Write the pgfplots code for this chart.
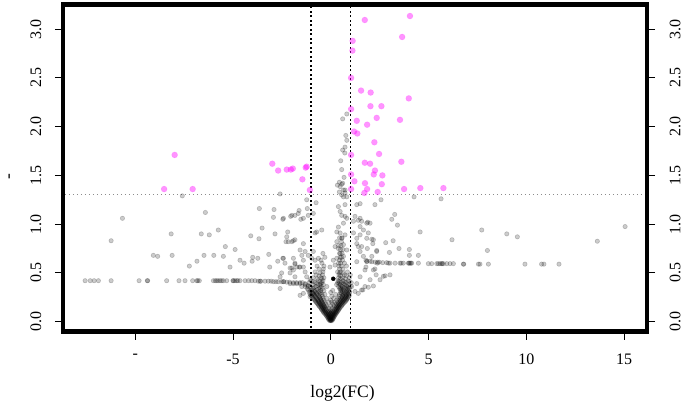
\documentclass[border=0pt]{standalone}
\usepackage{fontspec}
\setmainfont{Liberation Serif}
\usepackage{pgfplots}
\pgfplotsset{compat=1.18}
\definecolor{mag}{RGB}{255,0,255}
\pgfplotsset{
  gpt/.style={only marks, mark=*, mark size=2.2pt, mark options={draw=black, fill=black, fill opacity=0.2, draw opacity=0.2, line width=0.6pt}},
  ppt/.style={only marks, mark=*, mark size=3pt, mark options={draw=mag, fill=mag, fill opacity=0.42, draw opacity=0.15, line width=0.6pt}},
}
\begin{document}
\fontsize{16}{19}\selectfont
\begin{tikzpicture}
\useasboundingbox (-63pt,-69.3pt) rectangle (622pt,331.7pt);
\begin{axis}[
  at={(0,0)}, anchor=south west,
  width=584pt, height=327pt, scale only axis,
  xmin=-13.69, xmax=16.17, ymin=-0.103, ymax=3.251,
  axis line style={line width=4.5pt},
  axis on top,
  tick align=outside,
  xtick pos=bottom, ytick pos=left,
  major tick length=8pt,
  every tick/.style={black, line width=0.9pt},
  xtick={-10,-5,0,5,10,15}, xticklabels={{\mbox{-}},{-5},{0},{5},{10},{15}},
  ytick={0,0.5,1,1.5,2,2.5,3}, yticklabels={},
  xticklabel style={anchor=north, inner sep=0pt},
  xticklabel shift=14pt,
  xlabel={log2(FC)}, ylabel={-},
  xlabel style={at={(rel axis cs:0.4786,0)}, anchor=base, yshift=-66pt, inner sep=0pt, font=\fontsize{17.5}{21}\selectfont},
  ylabel style={at={([xshift=-52pt]rel axis cs:0,0.473)}, anchor=center, rotate=0, inner sep=0pt, font=\fontsize{17.5}{21}\selectfont},
]
% gray, non-significant
\addplot[gpt] table {
x y
-12.56 0.42
-12.30 0.42
-12.10 0.42
-11.88 0.42
-11.23 0.42
-9.80 0.42
-9.38 0.42
-9.36 0.42
-8.39 0.42
-7.76 0.42
-7.45 0.42
-7.06 0.42
-6.85 0.42
-6.80 0.42
-6.72 0.42
-6.00 0.42
-5.90 0.42
-5.83 0.42
-5.75 0.42
-5.66 0.42
-5.58 0.42
-5.49 0.42
-5.32 0.42
-5.00 0.42
-4.98 0.42
-4.90 0.42
-4.81 0.42
-4.75 0.42
-4.64 0.42
-4.38 0.42
-4.20 0.42
-4.04 0.42
-3.87 0.42
-3.70 0.415
-3.61 0.415
-3.58 0.415
-3.36 0.415
-3.19 0.415
-3.05 0.415
-2.93 0.41
-2.80 0.41
-2.68 0.41
-2.51 0.41
-2.40 0.41
-2.25 0.405
-2.10 0.405
-1.91 0.40
-1.75 0.40
-1.57 0.40
-1.45 0.40
-10.65 1.06
-11.23 0.83
-7.59 1.29
-6.41 1.12
-8.16 0.90
-6.62 0.90
-6.21 0.89
-5.75 0.94
-9.07 0.68
-8.85 0.67
-8.11 0.68
-7.23 0.57
-6.84 0.62
-6.48 0.68
-5.98 0.68
-5.49 0.67
-5.39 0.77
-5.15 0.56
-4.89 0.74
-4.64 0.63
-4.43 0.60
-4.09 0.88
-3.99 0.66
-4.02 0.62
-3.67 0.85
-3.65 1.16
-3.51 0.96
-3.73 0.65
-3.17 0.69
-3.12 0.56
-2.93 1.07
-2.90 1.15
-2.85 0.90
-2.71 0.62
-2.59 1.31
-2.59 0.34
-2.45 1.05
-2.45 0.65
-2.29 0.82
-2.25 0.87
-2.20 0.92
-2.05 1.08
-1.91 0.83
-1.66 1.11
-1.62 1.14
-1.53 1.05
-1.20 1.16
-1.91 0.65
-1.83 0.59
-1.74 0.56
-2.08 0.55
-2.59 0.46
-2.51 0.50
-1.57 0.735
-1.48 0.68
-1.40 0.63
-1.61 0.56
-1.31 0.51
-1.23 0.46
-1.15 0.36
-0.89 0.29
-1.31 0.39
-0.75 1.22
-0.72 0.92
-0.46 0.94
-1.83 1.09
-1.99 0.82
-1.40 0.80
-1.99 0.55
-1.83 0.46
-1.91 0.39
-1.57 0.39
-1.31 0.36
-1.06 0.43
-0.80 0.91
-0.89 1.11
-1.15 1.09
-1.23 1.25
-1.40 1.06
-1.99 1.09
-2.42 1.06
-2.17 0.82
-1.83 0.84
-1.31 0.72
-1.15 0.68
-0.89 0.72
-0.80 0.63
-0.97 0.65
-0.63 0.65
-2.42 0.65
-2.34 0.60
-1.83 0.60
-1.57 0.56
-1.40 0.56
-1.91 0.53
-2.08 0.50
-2.42 0.41
-2.08 0.39
-1.74 0.39
-1.48 0.36
-1.15 0.325
-1.06 0.256
-1.40 0.29
-1.57 0.27
0.39 1.18
0.48 1.13
0.56 1.09
0.73 1.08
0.82 1.06
0.65 1.01
0.39 0.97
0.31 0.92
0.48 0.91
0.73 0.89
0.56 0.855
0.31 0.82
0.22 0.77
0.39 0.75
0.65 0.79
0.82 0.735
0.48 0.70
0.65 0.67
0.31 0.65
0.13 0.63
0.22 0.58
-0.04 0.56
0.48 1.385
0.61 1.42
0.73 1.35
0.56 1.30
0.82 1.28
0.61 2.08
0.82 2.13
0.77 1.91
0.82 1.86
0.73 1.79
0.61 1.76
0.72 1.73
0.51 1.65
0.56 1.56
0.68 1.48
0.44 1.43
0.34 1.40
0.56 1.41
0.65 1.35
0.44 1.33
0.73 1.32
0.65 1.28
1.33 1.20
1.50 1.21
1.41 1.04
1.58 1.03
1.84 1.01
2.01 1.01
1.67 0.94
1.92 0.91
1.50 0.89
1.33 0.80
1.58 0.77
1.87 0.75
2.18 0.84
2.10 0.67
2.35 0.72
2.38 0.60
1.84 0.615
2.18 0.53
2.01 0.43
1.75 0.36
1.58 0.325
1.41 0.29
1.24 0.31
1.07 0.36
1.33 0.39
1.50 0.46
2.32 0.48
2.78 0.47
3.03 0.48
2.52 0.43
1.75 0.53
1.80 0.56
2.26 0.54
2.69 0.465
1.50 1.06
1.16 1.03
1.24 1.08
0.73 1.20
1.16 0.91
1.33 0.855
1.41 0.77
1.50 0.72
1.67 0.67
1.33 0.615
2.18 0.366
1.92 0.353
1.64 0.325
1.89 1.02
1.50 0.975
1.84 0.855
2.10 0.845
2.15 0.80
2.57 1.25
2.26 1.20
2.35 0.73
15.05 0.975
13.63 0.825
7.72 0.94
9.00 0.90
9.54 0.87
8.01 0.73
6.20 0.84
4.57 0.92
4.26 1.28
5.64 1.26
3.27 1.10
3.12 1.05
3.41 0.99
4.02 0.74
4.02 0.68
4.48 0.68
3.49 0.75
3.00 0.71
2.81 0.81
3.19 0.83
1.80 0.63
1.85 0.62
2.01 0.62
2.10 0.615
2.27 0.61
2.40 0.61
2.48 0.61
2.66 0.605
2.86 0.605
2.95 0.60
3.03 0.60
3.29 0.60
3.54 0.60
3.60 0.60
3.71 0.60
3.97 0.60
4.00 0.60
4.05 0.60
4.10 0.60
4.14 0.60
4.48 0.60
4.99 0.595
5.16 0.595
5.42 0.595
5.50 0.595
5.59 0.595
5.67 0.595
5.70 0.595
5.76 0.595
5.93 0.595
6.10 0.595
6.27 0.595
6.78 0.59
6.80 0.59
7.55 0.59
7.63 0.59
8.06 0.59
9.93 0.59
10.78 0.59
10.90 0.59
11.67 0.59
-0.05 0.01
0.00 0.01
0.05 0.01
-0.10 0.02
-0.03 0.02
0.03 0.02
0.10 0.02
-0.15 0.04
-0.08 0.04
0.00 0.04
0.07 0.04
0.14 0.04
-0.22 0.06
-0.12 0.06
-0.04 0.06
0.04 0.06
0.12 0.06
0.20 0.06
-0.30 0.08
-0.20 0.08
-0.10 0.08
0.00 0.08
0.10 0.08
0.18 0.08
0.26 0.08
-0.38 0.10
-0.28 0.10
-0.15 0.10
-0.05 0.10
0.05 0.10
0.15 0.10
0.25 0.10
0.33 0.10
-0.45 0.12
-0.33 0.12
-0.22 0.12
0.00 0.12
0.20 0.12
0.30 0.12
0.40 0.12
-0.50 0.14
-0.40 0.14
-0.28 0.14
-0.10 0.14
0.10 0.14
0.26 0.14
0.36 0.14
0.46 0.14
-0.60 0.16
-0.46 0.16
-0.34 0.16
-0.20 0.16
0.00 0.16
0.18 0.16
0.32 0.16
0.42 0.16
0.55 0.16
-0.66 0.18
-0.52 0.18
-0.40 0.18
-0.25 0.18
0.10 0.18
0.28 0.18
0.40 0.18
0.50 0.18
0.62 0.18
-0.75 0.20
-0.60 0.20
-0.45 0.20
-0.30 0.20
-0.10 0.20
0.05 0.20
0.20 0.20
0.35 0.20
0.48 0.20
0.60 0.20
0.72 0.20
-0.82 0.22
-0.65 0.22
-0.50 0.22
-0.35 0.22
0.00 0.22
0.30 0.22
0.45 0.22
0.55 0.22
0.68 0.22
0.80 0.22
-0.90 0.24
-0.72 0.24
-0.55 0.24
-0.40 0.24
-0.20 0.24
0.15 0.24
0.38 0.24
0.50 0.24
0.62 0.24
0.75 0.24
0.86 0.24
-0.98 0.26
-0.80 0.26
-0.60 0.26
-0.42 0.26
0.05 0.26
0.42 0.26
0.58 0.26
0.70 0.26
0.82 0.26
0.92 0.26
-1.05 0.28
-0.88 0.28
-0.70 0.28
-0.45 0.28
-0.30 0.28
0.25 0.28
0.45 0.28
0.62 0.28
0.78 0.28
0.90 0.28
-1.10 0.30
-0.95 0.30
-0.75 0.30
-0.50 0.30
0.00 0.30
0.50 0.30
0.68 0.30
0.85 0.30
0.97 0.30
-1.00 0.32
-0.82 0.32
-0.52 0.32
-0.35 0.32
0.10 0.32
0.52 0.32
0.70 0.32
0.90 0.32
-1.20 0.34
-0.90 0.34
-0.60 0.34
-0.42 0.34
0.45 0.34
0.58 0.34
0.78 0.34
0.95 0.34
-1.05 0.36
-0.75 0.36
-0.48 0.36
-0.20 0.36
0.40 0.36
0.60 0.36
0.85 0.36
1.00 0.36
-1.30 0.38
-0.90 0.38
-0.55 0.38
-0.38 0.38
0.30 0.38
0.48 0.38
0.72 0.38
0.92 0.38
-1.10 0.40
-0.80 0.40
-0.45 0.40
0.35 0.40
0.55 0.40
0.80 0.40
1.05 0.40
-1.00 0.42
-0.65 0.42
-0.40 0.42
0.38 0.42
0.62 0.42
0.88 0.42
-0.90 0.45
-0.50 0.45
-0.35 0.45
0.40 0.45
0.60 0.45
0.95 0.45
-0.75 0.48
-0.42 0.48
0.42 0.48
0.70 0.48
1.00 0.48
-0.80 0.51
-0.40 0.51
0.35 0.51
0.50 0.51
0.85 0.51
-0.60 0.54
-0.38 0.54
0.45 0.54
0.62 0.54
-0.70 0.57
-0.35 0.57
0.42 0.57
0.55 0.57
0.80 0.57
-0.45 0.60
0.40 0.60
0.50 0.60
0.70 0.60
-0.50 0.63
0.45 0.63
0.60 0.63
-0.30 0.66
0.48 0.66
0.55 0.66
-0.40 0.70
0.45 0.70
0.58 0.70
0.50 0.74
0.62 0.74
0.52 0.78
0.40 0.78
0.55 0.82
0.58 0.86
0.45 0.86
-0.02 0.015
0.02 0.015
-0.12 0.03
-0.06 0.03
0.00 0.03
0.06 0.03
0.12 0.03
-0.18 0.05
-0.10 0.05
-0.02 0.05
0.02 0.05
0.10 0.05
0.17 0.05
-0.25 0.07
-0.16 0.07
-0.07 0.07
0.07 0.07
0.16 0.07
0.23 0.07
-0.34 0.09
-0.24 0.09
-0.12 0.09
0.00 0.09
0.12 0.09
0.22 0.09
0.30 0.09
-0.40 0.11
-0.30 0.11
-0.10 0.11
0.10 0.11
0.28 0.11
0.37 0.11
-0.48 0.13
-0.36 0.13
-0.25 0.13
0.22 0.13
0.33 0.13
0.43 0.13
-0.55 0.15
-0.43 0.15
-0.31 0.15
0.30 0.15
0.40 0.15
0.50 0.15
-0.62 0.17
-0.50 0.17
-0.37 0.17
0.36 0.17
0.46 0.17
0.58 0.17
-0.70 0.19
-0.56 0.19
-0.42 0.19
0.42 0.19
0.55 0.19
0.66 0.19
-0.78 0.21
-0.62 0.21
-0.47 0.21
0.50 0.21
0.63 0.21
0.76 0.21
-0.85 0.23
-0.68 0.23
-0.52 0.23
0.56 0.23
0.70 0.23
0.82 0.23
-0.94 0.25
-0.76 0.25
-0.58 0.25
0.60 0.25
0.76 0.25
0.90 0.25
-1.00 0.27
-0.84 0.27
-0.65 0.27
0.65 0.27
0.80 0.27
0.95 0.27
-0.92 0.29
-0.72 0.29
-0.55 0.29
0.55 0.29
0.72 0.29
0.88 0.29
-1.05 0.31
-0.80 0.31
-0.60 0.31
0.60 0.31
0.80 0.31
0.95 0.31
-0.95 0.33
-0.70 0.33
0.50 0.33
0.65 0.33
0.85 0.33
-0.85 0.35
-0.55 0.35
0.50 0.35
0.70 0.35
0.90 0.35
-1.15 0.37
-0.65 0.37
0.55 0.37
0.80 0.37
-0.70 0.39
-0.50 0.39
0.42 0.39
0.65 0.39
-0.90 0.41
-0.55 0.41
0.45 0.41
0.70 0.41
0.95 0.41
-0.70 0.44
-0.45 0.44
0.50 0.44
0.75 0.44
-0.60 0.47
0.50 0.47
0.80 0.47
-0.55 0.50
0.45 0.50
0.62 0.50
};
% significant
\addplot[ppt] table {
x y
4.05 3.135
1.74 3.094
3.65 2.92
1.12 2.88
1.11 2.78
1.04 2.50
1.55 2.37
2.04 2.35
3.99 2.29
2.03 2.21
2.59 2.21
1.04 2.18
1.33 2.06
2.35 2.09
3.54 2.07
1.86 2.02
1.19 1.95
1.36 1.93
2.23 1.84
2.47 1.72
1.04 1.71
1.74 1.63
2.01 1.62
3.61 1.64
2.26 1.55
2.20 1.51
2.64 1.50
1.04 1.51
1.21 1.44
1.75 1.42
2.61 1.41
1.86 1.36
2.40 1.33
1.72 1.32
1.04 1.36
3.75 1.36
4.58 1.37
5.76 1.37
-7.98 1.71
-8.52 1.36
-7.06 1.36
-2.99 1.62
-2.69 1.55
-2.25 1.56
-2.04 1.56
-1.94 1.57
-1.28 1.58
-1.23 1.59
-1.45 1.46
-1.07 1.35
};
\addplot[only marks, mark=*, mark size=2pt, mark options={draw=black, fill=black}] coordinates {(0.13,0.44)};
% threshold lines
\addplot[black, line width=1.5pt, dash pattern=on 2pt off 2.5pt] coordinates {(-1,-0.2) (-1,3.4)};
\addplot[black, line width=1.5pt, dash pattern=on 2pt off 2.5pt] coordinates {(1,-0.2) (1,3.4)};
\addplot[black!45, line width=1pt, dash pattern=on 1.5pt off 2.5pt] coordinates {(-14,1.301) (17,1.301)};
\end{axis}
\begin{axis}[
  at={(0,0)}, anchor=south west,
  width=584pt, height=327pt, scale only axis,
  xmin=-13.69, xmax=16.17, ymin=-0.103, ymax=3.251,
  hide x axis, axis y line*=right,
  axis line style={draw=none},
  clip=false,
  tick align=outside,
  major tick length=8pt,
  every tick/.style={black, line width=0.9pt},
  ytick={0,0.5,1,1.5,2,2.5,3}, yticklabels={},
]
\addplot[draw=none] coordinates {(0,0)};
\foreach \v/\t in {0/0.0, 0.5/0.5, 1/1.0, 1.5/1.5, 2/2.0, 2.5/2.5, 3/3.0} {
  \edef\temp{\noexpand\node[rotate=90, anchor=south, inner sep=0pt] at ([xshift=-21.5pt]axis cs:-13.69,\v) {\t};
    \noexpand\node[rotate=90, anchor=north, inner sep=0pt] at ([xshift=22.5pt]axis cs:16.17,\v) {\t};}
  \temp
}
\end{axis}
\end{tikzpicture}
\end{document}
